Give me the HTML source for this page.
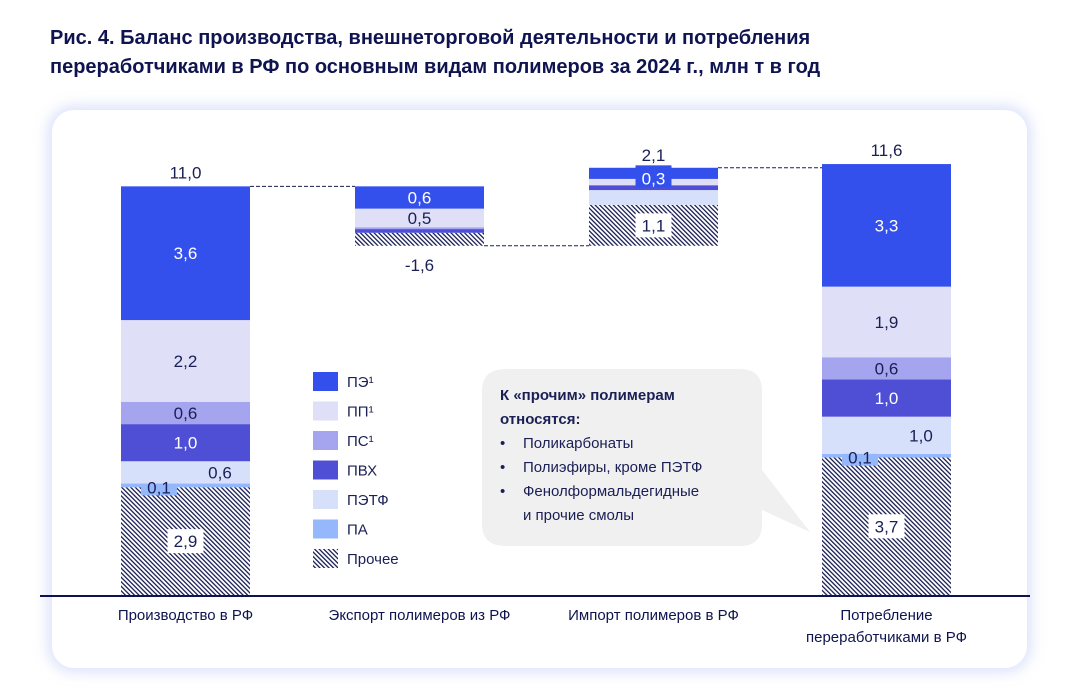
<!DOCTYPE html>
<html><head><meta charset="utf-8"><style>
body{margin:0;width:1077px;height:688px;background:#fff;font-family:"Liberation Sans","Noto Sans CJK SC",sans-serif;overflow:hidden;position:relative}
#title{position:absolute;left:50px;top:24px;font-size:20px;font-weight:bold;color:#0f1450;line-height:29px}
#card{position:absolute;left:52px;top:110px;width:975px;height:558px;border-radius:22px;background:#fff;box-shadow:0 0 14px 4px rgba(150,170,240,0.35)}
svg{position:absolute;left:0;top:0}
text{font-family:"Liberation Sans",sans-serif}
</style></head><body>
<div id="title">Рис. 4. Баланс производства, внешнеторговой деятельности и потребления<br>переработчиками в РФ по основным видам полимеров за 2024 г., млн т в год</div>
<div id="card"></div>
<svg id="chart" width="1077" height="688">
<defs><pattern id="hatch" width="3.2" height="3.2" patternUnits="userSpaceOnUse" patternTransform="rotate(-45)"><rect width="3.2" height="3.2" fill="#fff"/><rect width="1.3" height="3.2" fill="#1a1f55"/></pattern></defs>
</svg>
<script>
const categories=["Производство в РФ","Экспорт полимеров из РФ","Импорт полимеров в РФ","Потребление|переработчиками в РФ"];
const seriesNames=["Прочее","ПА","ПЭТФ","ПВХ","ПС¹","ПП¹","ПЭ¹"];
const prod=[2.9,0.1,0.6,1.0,0.6,2.2,3.6];
const exportVals=[0.35,0,0,0.1,0.05,0.5,0.6];
const importVals=[1.1,0,0.4,0.13,0,0.17,0.3];
const cons=[3.7,0.1,1.0,1.0,0.6,1.9,3.3];
const totals=["11,0","-1,6","2,1","11,6"];
const prodLabels=["2,9","0,1","0,6","1,0","0,6","2,2","3,6"];
const exportLabels=["","","","","","0,5","0,6"];
const importLabels=["1,1","","","","","","0,3"];
const consLabels=["3,7","0,1","1,0","1,0","0,6","1,9","3,3"];
const colors=["url(#hatch)","#94b8fb","#d6e0fa","#4f4fd6","#a5a4ee","#dfdff8","#3350ec"];
const dark=[false,false,false,true,false,false,true];
const NS="http://www.w3.org/2000/svg";
const svg=document.getElementById('chart');
const y0=595,k=37.15;
const Y=v=>y0-v*k;
const barX=[121,355,589,822],bw=129;
function mk(t,a,p){const e=document.createElementNS(NS,t);for(const n in a)e.setAttribute(n,a[n]);(p||svg).appendChild(e);return e;}
function txt(x,y,s,fill,size,bold,anchor){const e=mk('text',{x:x,y:y,fill:fill,'font-size':size,'text-anchor':anchor||'middle','font-weight':bold?'bold':'normal'});e.textContent=s;return e;}
const sumArr=a=>a.reduce((s,v)=>s+v,0);
const pTot=sumArr(prod),eTot=sumArr(exportVals),iTot=sumArr(importVals),cTot=sumArr(cons);
const bars=[[prod,0,1,prodLabels],[exportVals,pTot,-1,exportLabels],[importVals,pTot-eTot,1,importLabels],[cons,0,1,consLabels]];
bars.forEach((b,bi)=>{
  const [vals,base,dir,labs]=b;const g=mk('g',{});
  
  
  let start= dir>0?base:base-sumArr(vals);
  let cur=start;
  vals.forEach((v,i)=>{
    const top=Y(cur+v),bot=Y(cur);
    if(v>0){const r=mk('rect',{x:barX[bi],y:top,width:bw,height:bot-top,fill:colors[i]},g);
      
      }
    const l=labs[i];
    if(l){const cy=(top+bot)/2;let cx=barX[bi]+bw/2;
      if(v<0.3){cx=barX[bi]+38;}
      if(bi===0&&i===2)cx=barX[bi]+bw-30;
      if(bi===3&&i===2)cx=barX[bi]+bw-30;
      const w=l.length*10+6;
      if(i===0){mk('rect',{x:cx-w/2,y:cy-12,width:w,height:24,fill:'#fff'},g);}
      if(i===1){mk('rect',{x:cx-w/2,y:cy-10,width:w,height:20,fill:colors[1]},g);}
      if(bi===2&&i===6){mk('rect',{x:cx-w/2,y:cy-8,width:w,height:22,fill:colors[6]},g);txt(cx,cy+11,l,'#fff',17);}
      else txt(cx,cy+6+(i===1?2:0),l,dark[i]?'#fff':'#1a1f55',17);
    }
    cur+=v;
  });
});
txt(barX[0]+bw/2,Y(pTot)-8,totals[0],'#1a1f55',17);
txt(barX[1]+bw/2,Y(pTot-eTot)+25,totals[1],'#1a1f55',17);
txt(barX[2]+bw/2,Y(pTot-eTot+iTot)-7,totals[2],'#1a1f55',17);
txt(barX[3]+bw/2,Y(cTot)-8,totals[3],'#1a1f55',17);
[[0,1,pTot],[1,2,pTot-eTot],[2,3,pTot-eTot+iTot]].forEach(c=>{const l=mk('line',{x1:barX[c[0]]+bw,x2:barX[c[1]],y1:Y(c[2]),y2:Y(c[2]),stroke:'#1a1f55','stroke-width':1,'stroke-dasharray':'4,2'});

});
const ax=mk('line',{x1:40,x2:1030,y1:596,y2:596,stroke:'#0f1450','stroke-width':2});


categories.forEach((c,i)=>{c.split('|').forEach((s,j)=>{const t=txt(barX[i]+bw/2,620+j*22,s,'#0f1450',15);

});});
const legCol=["#3350ec","#dfdff8","#a5a4ee","#4f4fd6","#d6e0fa","#94b8fb","url(#hatch)"];
const legNames=["ПЭ¹","ПП¹","ПС¹","ПВХ","ПЭТФ","ПА","Прочее"];
legNames.forEach((n,i)=>{const g=mk('g',{});


const y=372+i*29.5;mk('rect',{x:313,y:y,width:25,height:19,fill:legCol[i]},g);
const t=mk('text',{x:347,y:y+15,fill:'#1a1f55','font-size':15},g);t.textContent=n;});
const cg=mk('g',{});


mk('path',{d:'M506 369 H740 Q762 369 762 391 V470 L810 532 L762 510 V524 Q762 546 740 546 H506 Q482 546 482 524 V391 Q482 369 506 369 Z',fill:'#f0f0f0'},cg);
const ct=[["К «прочим» полимерам",500,400,true],["относятся:",500,424,true],["Поликарбонаты",523,448,false],["Полиэфиры, кроме ПЭТФ",523,472,false],["Фенолформальдегидные",523,496,false],["и прочие смолы",523,520,false]];
ct.forEach(c=>{const t=mk('text',{x:c[1],y:c[2],fill:'#1a1f55','font-size':15,'font-weight':c[3]?'bold':'normal'},cg);t.textContent=c[0];});
[448,472,496].forEach(y=>{const t=mk('text',{x:500,y:y,fill:'#1a1f55','font-size':15},cg);t.textContent='•';});
</script>
</body></html>
